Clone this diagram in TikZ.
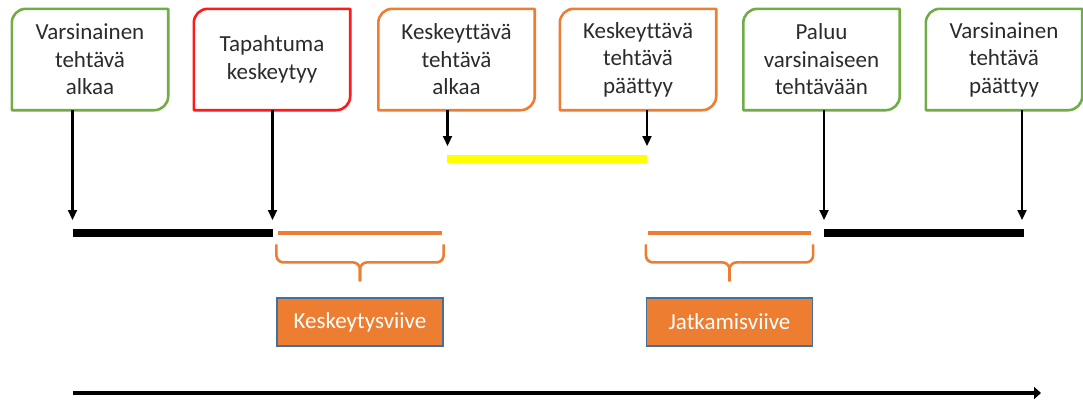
\documentclass[tikz,border=0pt]{standalone}
\usepackage{fontspec}
\setmainfont{Carlito}[Ligatures=NoCommon]
\usepackage{tikz}
\usetikzlibrary{arrows.meta,calc}
\definecolor{tlInk}{HTML}{2B2B2B}
\definecolor{tlGreen}{HTML}{70AD47}
\definecolor{tlRed}{HTML}{FF1A1A}
\definecolor{tlOrange}{HTML}{ED7D31}
\definecolor{tlYellow}{HTML}{FFFF00}
\definecolor{tlEdge}{HTML}{41719C}
\tikzset{
  evbox/.style={rectangle,inner sep=0pt,
    minimum width=156pt,minimum height=101pt,
    align=center,font=\fontsize{23}{27.5}\selectfont,text=tlInk},
  frame/.style={line width=2.6pt,line join=round},
  delaybox/.style={rectangle,inner sep=0pt,
    minimum width=166pt,minimum height=48pt,
    align=center,fill=tlOrange,draw=tlEdge,line width=1.2pt,
    font=\fontsize{23}{27.5}\selectfont,text=white},
  arr/.style={-{Triangle[length=10pt,width=9pt]},line width=2.2pt,color=black},
  mainbar/.style={line width=8.5pt,color=black},
  subbar/.style={line width=8.5pt,color=tlYellow},
  delaybar/.style={line width=4.5pt,color=tlOrange},
  brace/.style={line width=2.6pt,color=tlOrange,rounded corners=7pt},
  timearr/.style={-{Triangle[length=7pt,width=12pt]},line width=4.5pt,color=black},
}
% round diagonal corner frame round a node
\newcommand\evframe[2]{%
  \draw[frame,#2] ($(#1.north west)+(0,-14pt)$)
    arc[start angle=180,end angle=90,radius=14pt] -- (#1.north east)
    -- ($(#1.south east)+(0,14pt)$)
    arc[start angle=0,end angle=-90,radius=14pt] -- (#1.south west) -- cycle;}

\begin{document}
\begin{tikzpicture}[x=1pt,y=1pt]
  \useasboundingbox (0,0) rectangle (1083,-399);

  % events
  \node[evbox] (b1) at (90,-59.5) {Varsinainen\\tehtävä\\alkaa};
  \node[evbox] (b2) at (272,-59.5) {Tapahtuma\\keskeytyy};
  \node[evbox] (b3) at (456.5,-59.5) {Keskeyttävä\\tehtävä\\alkaa};
  \node[evbox] (b4) at (638,-59.5) {Keskeyttävä\\tehtävä\\päättyy};
  \node[evbox] (b5) at (821.5,-59.5) {Paluu\\varsinaiseen\\tehtävään};
  \node[evbox] (b6) at (1004,-59.5) {Varsinainen\\tehtävä\\päättyy};

  \foreach \n/\c in {b1/tlGreen,b2/tlRed,b3/tlOrange,b4/tlOrange,b5/tlGreen,b6/tlGreen}
    \evframe{\n}{\c};

  % arrow ends on the timelines
  \coordinate (t1) at (72.5,-220);
  \coordinate (t2) at (272.5,-220);
  \coordinate (t3) at (447.5,-146);
  \coordinate (t4) at (647,-146);
  \coordinate (t5) at (824,-220);
  \coordinate (t6) at (1022,-220);

  \foreach \n in {1,...,6}
    \draw[arr] (b\n.south -| t\n) -- (t\n);

  % bars
  \draw[mainbar] (72.5,-233) -- (272.5,-233);
  \draw[mainbar] (824,-233) -- (1024,-233);
  \draw[subbar] (447,-159) -- (647,-159);
  \draw[delaybar] (277.5,-233) -- (442,-233);
  \draw[delaybar] (647.5,-233) -- (811,-233);

  % delays
  \node[delaybox] (d1) at (360,-322) {Keskeytysviive};
  \node[delaybox] (d2) at (729.5,-322) {Jatkamisviive};

  \foreach \d in {d1,d2} {
    \draw[brace] ($(\d.north west)+(0,53)$) -- ($(\d.north west)+(0,35)$)
      -- ($(\d.north)+(0,35)$) -- ($(\d.north)+(0,16)$);
    \draw[brace] ($(\d.north east)+(0,53)$) -- ($(\d.north east)+(0,35)$)
      -- ($(\d.north)+(0,35)$) -- ($(\d.north)+(0,16)$);
  }

  % time
  \coordinate (s0) at (73,-393);
  \coordinate (s1) at (1041,-393);
  \draw[timearr] (s0) -- (s1);
\end{tikzpicture}
\end{document}
